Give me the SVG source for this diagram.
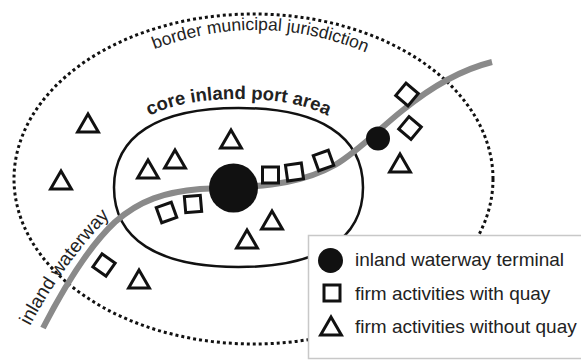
<svg xmlns="http://www.w3.org/2000/svg" xmlns:xlink="http://www.w3.org/1999/xlink" width="581" height="360" viewBox="0 0 581 360">
<style>
.sym{fill:#fff;stroke:#111;stroke-width:3;stroke-linejoin:miter}
.lbl{font-family:"Liberation Sans",Arial,sans-serif;fill:#222}
.leg{font-size:19px}
</style>
<defs>
<path id="tri" d="M0,0 L10.4,18 L-10.4,18 Z"/>
<rect id="sq" x="-8" y="-8" width="16" height="16"/>
<path id="borderPath" d="M125,62 Q260,-4 395,66"/>
<path id="corePath" d="M105,188 C105,129.5 152,99 238.5,99 C325,99 372,129.5 372,188"/>
<path id="wwPath" d="M30,326 C47,294 73,253 113,213"/>
</defs>
<rect width="581" height="360" fill="#fff"/>
<g id="municipal-border">
<ellipse cx="253.5" cy="179" rx="239.5" ry="165" fill="none" stroke="#111" stroke-width="3" stroke-dasharray="3 3"/>
<text class="lbl" font-size="17.5"><textPath xlink:href="#borderPath" href="#borderPath" startOffset="50%" text-anchor="middle">border municipal jurisdiction</textPath></text>
</g>
<g id="core-area">
<path d="M114,187.5 C114,135.8 157.6,108 238.5,108 C319.4,108 363,135.8 363,187.5 C363,239.2 319.4,267 238.5,267 C157.6,267 114,239.2 114,187.5 Z" fill="none" stroke="#111" stroke-width="2.5"/>
<text class="lbl" font-size="18.5" font-weight="bold" fill="#111"><textPath xlink:href="#corePath" href="#corePath" startOffset="50%" text-anchor="middle">core inland port area</textPath></text>
</g>
<g id="connectors">
<path id="waterway" d="M43,328 C60,295 85,250 115,222 C140,200 165,192 200,189 L233,187.5 C270,186 305,182 335,165 C360,150 380,128 403,110 C430,88 460,70 492,62" fill="none" stroke="#8a8a8a" stroke-width="6"/>
<text class="lbl" font-size="19"><textPath xlink:href="#wwPath" href="#wwPath">inland waterway</textPath></text>
</g>
<g id="firms-with-quay">
<use href="#sq" xlink:href="#sq" class="sym" transform="translate(270.5,175)"/>
<use href="#sq" xlink:href="#sq" class="sym" transform="translate(294.5,172) rotate(-8)"/>
<use href="#sq" xlink:href="#sq" class="sym" transform="translate(323.5,160.5) rotate(-20)"/>
<use href="#sq" xlink:href="#sq" class="sym" transform="translate(193,204) rotate(-5)"/>
<use href="#sq" xlink:href="#sq" class="sym" transform="translate(166.5,212.5) rotate(-20)"/>
<use href="#sq" xlink:href="#sq" class="sym" transform="translate(407,94.5) rotate(40)"/>
<use href="#sq" xlink:href="#sq" class="sym" transform="translate(410,128) rotate(40)"/>
<use href="#sq" xlink:href="#sq" class="sym" transform="translate(104,265) rotate(35)"/>
</g>
<g id="firms-without-quay">
<use href="#tri" xlink:href="#tri" class="sym" transform="translate(88,114)"/>
<use href="#tri" xlink:href="#tri" class="sym" transform="translate(231,130)"/>
<use href="#tri" xlink:href="#tri" class="sym" transform="translate(175,150)"/>
<use href="#tri" xlink:href="#tri" class="sym" transform="translate(148,160)"/>
<use href="#tri" xlink:href="#tri" class="sym" transform="translate(61,171)"/>
<use href="#tri" xlink:href="#tri" class="sym" transform="translate(272,211)"/>
<use href="#tri" xlink:href="#tri" class="sym" transform="translate(247,230)"/>
<use href="#tri" xlink:href="#tri" class="sym" transform="translate(139,270)"/>
<use href="#tri" xlink:href="#tri" class="sym" transform="translate(400,154)"/>
</g>
<g id="terminals">
<circle cx="233.5" cy="188" r="24.5" fill="#111"/>
<circle cx="378" cy="138.5" r="12" fill="#111"/>
</g>
<g id="legend">
<rect x="308.5" y="235.5" width="285" height="123" fill="#fff" stroke="#c8c8c8" stroke-width="1.5"/>
<circle cx="330.5" cy="260.5" r="12.5" fill="#111"/>
<use href="#sq" xlink:href="#sq" class="sym" transform="translate(332,293)"/>
<use href="#tri" xlink:href="#tri" class="sym" transform="translate(331,317)"/>
<text class="lbl leg" x="355" y="266">inland waterway terminal</text>
<text class="lbl leg" x="355" y="300">firm activities with quay</text>
<text class="lbl leg" x="355" y="333">firm activities without quay</text>
</g>
</svg>
